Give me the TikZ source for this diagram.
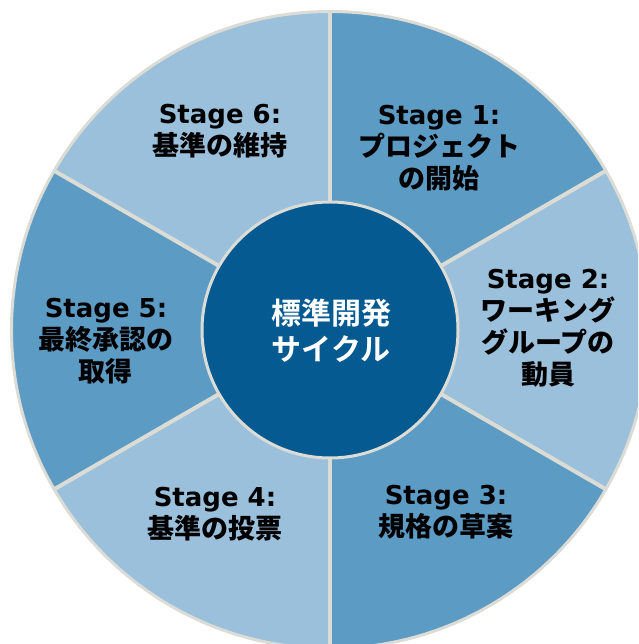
\documentclass[tikz,border=0pt]{standalone}
\usepackage{fontspec}
\setmainfont{DejaVu Sans}
\newfontfamily\jpfont{Noto Sans CJK JP Bold}
\newcommand{\jp}[1]{{\jpfont\fontsize{27}{32}\selectfont #1}}
\definecolor{darkSector}{RGB}{92,155,196}
\definecolor{lightSector}{RGB}{155,192,219}
\definecolor{hubBlue}{RGB}{5,90,145}
\definecolor{rimGray}{RGB}{220,220,214}

\begin{document}
\begin{tikzpicture}[x = 1pt, y = 1pt]
\tikzstyle{darkStyle} = [fill = darkSector]
\tikzstyle{lightStyle} = [fill = lightSector]
\tikzstyle{dividerStyle} = [draw = rimGray, line width = 4pt]
\tikzstyle{rimStyle} = [draw = rimGray, line width = 3pt]
\tikzstyle{stageStyle} = [align = center, inner sep = 0pt, text = black, font = \bfseries\fontsize{26}{32}\selectfont]
\tikzstyle{hubStyle} = [align = center, inner sep = 0pt, text = white, font = \jpfont\fontsize{30}{36}\selectfont]
\useasboundingbox (-330, -314) rectangle (308, 330);
\clip (-330, -314) rectangle (308, 330);
% sectors
\path[darkStyle] (0, 0) -- (30:318.5) arc[start angle = 30, end angle = 90, radius = 318.5] -- cycle;
\path[lightStyle] (0, 0) -- (-30:318.5) arc[start angle = -30, end angle = 30, radius = 318.5] -- cycle;
\path[darkStyle] (0, 0) -- (-90:318.5) arc[start angle = -90, end angle = -30, radius = 318.5] -- cycle;
\path[lightStyle] (0, 0) -- (-150:318.5) arc[start angle = -150, end angle = -90, radius = 318.5] -- cycle;
\path[darkStyle] (0, 0) -- (150:318.5) arc[start angle = 150, end angle = 210, radius = 318.5] -- cycle;
\path[lightStyle] (0, 0) -- (90:318.5) arc[start angle = 90, end angle = 150, radius = 318.5] -- cycle;
% dividers
\draw[dividerStyle] (0, 0) -- (90:318.5);
\draw[dividerStyle] (0, 0) -- (30:318.5);
\draw[dividerStyle] (0, 0) -- (-30:318.5);
\draw[dividerStyle] (0, 0) -- (-90:318.5);
\draw[dividerStyle] (0, 0) -- (-150:318.5);
\draw[dividerStyle] (0, 0) -- (150:318.5);
\draw[rimStyle] (0, 0) circle (318.5);
% hub
\draw[rimStyle, fill = hubBlue] (0, 0) circle (128);
\node[hubStyle] (hub) at (1, -1) {標準開発\\サイクル};
% labels
\node[stageStyle] (s1) at (109, 182) {Stage 1:\\\jp{プロジェクト}\\\jp{の開始}};
\node[stageStyle] (s2) at (218, 2) {Stage 2:\\\jp{ワーキング}\\\jp{グループの}\\\jp{動員}};
\node[stageStyle] (s3) at (116, -182) {Stage 3:\\\jp{規格の草案}};
\node[stageStyle] (s4) at (-115, -184) {Stage 4:\\\jp{基準の投票}};
\node[stageStyle] (s5) at (-224, -11) {Stage 5:\\\jp{最終承認の}\\\jp{取得}};
\node[stageStyle] (s6) at (-110, 199) {Stage 6:\\\jp{基準の維持}};
\end{tikzpicture}
\end{document}
